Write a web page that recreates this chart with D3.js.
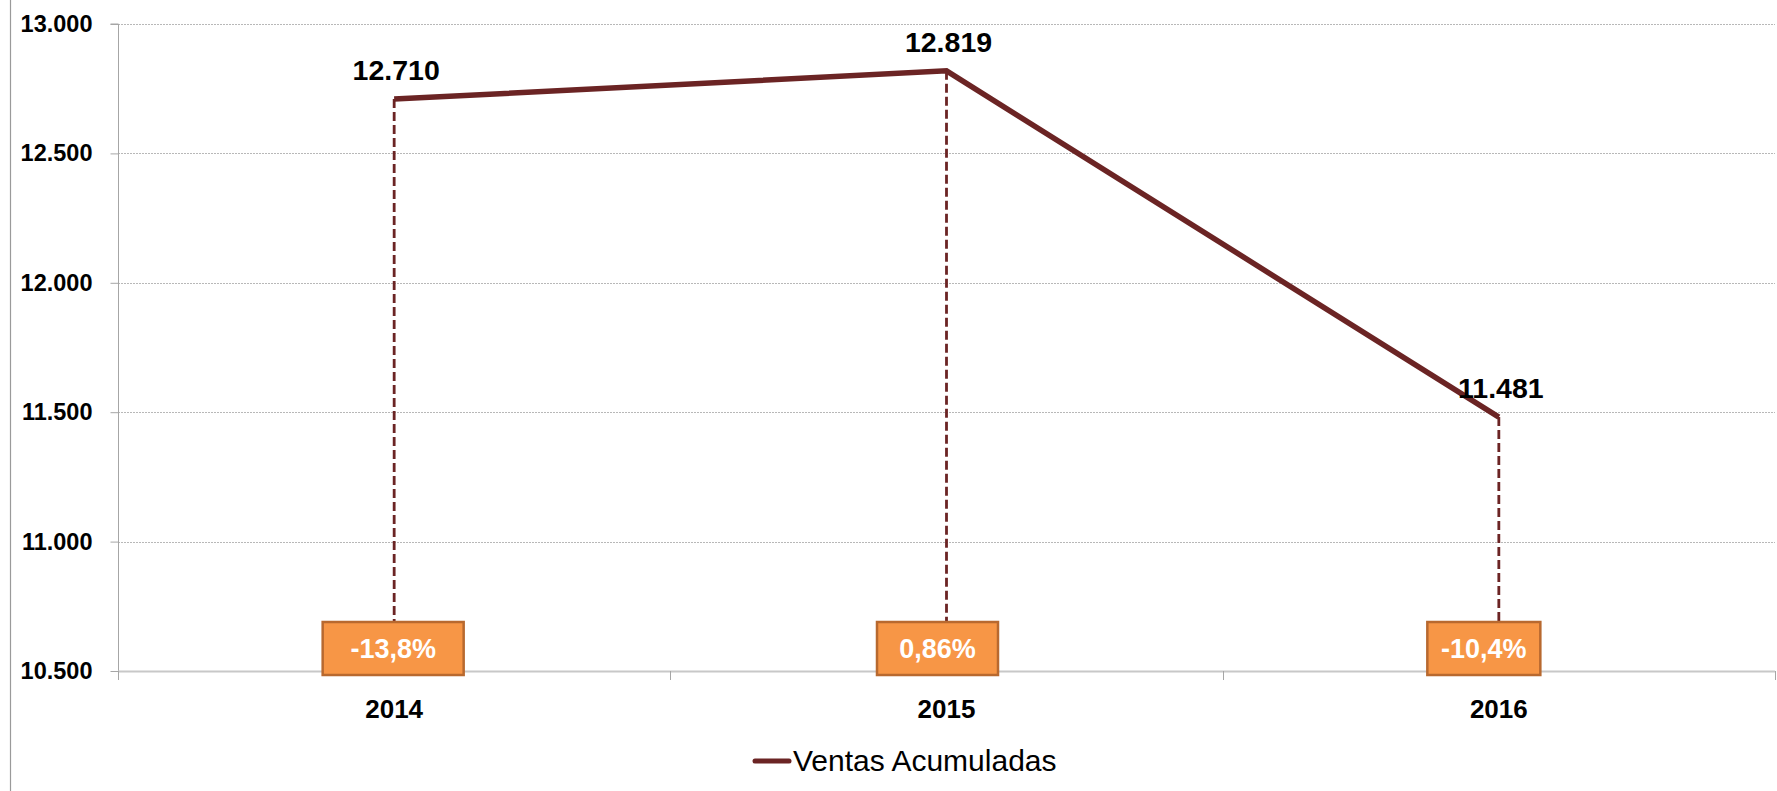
<!DOCTYPE html>
<html>
<head>
<meta charset="utf-8">
<script src="https://cdn.jsdelivr.net/npm/d3@7"></script>
<style>
  html, body { margin: 0; padding: 0; background: #fff; }
  svg { display: block; }
</style>
</head>
<body>
<svg id="chart" width="1777" height="791"></svg>
<script>
// ---- data ----
const categories = ["2014", "2015", "2016"];
const ventas = [12710, 12819, 11481];
const valueLabels = ["12.710", "12.819", "11.481"];
const changeLabels = ["-13,8%", "0,86%", "-10,4%"];
const yTicks = [10500, 11000, 11500, 12000, 12500, 13000];
const yTickLabels = ["10.500", "11.000", "11.500", "12.000", "12.500", "13.000"];
const seriesName = "Ventas Acumuladas";

// ---- layout / style ----
const W = 1777, H = 791;
const plot = { left: 118, right: 1775, top: 24, bottom: 671 };
const lineColor = "#6B2424";
const boxFill = "#F79646", boxStroke = "#B8692F";
const boxWidths = [141, 121, 113];
const boxDx = [-1, -9, -15];
const boxTop = 622, boxH = 53;
const font = "'Liberation Sans', Arial, sans-serif";

const svg = d3.select("#chart");

const x = d3.scaleBand().domain(categories).range([plot.left, plot.right]);
const y = d3.scaleLinear().domain([10500, 13000]).range([plot.bottom, plot.top]);
const cx = d => x(d) + x.bandwidth() / 2;

// outer left border
svg.append("line").attr("x1", 10.5).attr("x2", 10.5).attr("y1", 0).attr("y2", H)
  .attr("stroke", "#9a9a9a").attr("stroke-width", 1.2);

// gridlines
svg.append("g").selectAll("line").data(yTicks.filter(t => t !== 10500)).join("line")
  .attr("x1", plot.left).attr("x2", plot.right)
  .attr("y1", d => Math.round(y(d)) + 0.5).attr("y2", d => Math.round(y(d)) + 0.5)
  .attr("stroke", "#b8b8b8").attr("stroke-width", 1).attr("stroke-dasharray", "2,1");

// y axis
const yAxis = d3.axisLeft(y).tickValues(yTicks).tickSize(8).tickPadding(18)
  .tickFormat((d, i) => yTickLabels[i]);
const gy = svg.append("g").attr("transform", `translate(${plot.left + 0.5},0)`).call(yAxis);
gy.select(".domain").attr("stroke", "#a6a6a6").attr("d", `M-8,${y(13000)}H0V${plot.bottom}`);
gy.selectAll(".tick line").attr("stroke", "#a6a6a6");
gy.selectAll(".tick text")
  .attr("font-family", font).attr("font-weight", "bold").attr("font-size", 23.5).attr("fill", "#000");

// x axis
const xAxis = d3.axisBottom(x).tickSize(0).tickPadding(0).tickFormat(() => "");
const gx = svg.append("g").attr("transform", `translate(0,${plot.bottom + 0.5})`).call(xAxis);
gx.select(".domain").attr("stroke", "#c8c8c8").attr("stroke-width", 2)
  .attr("d", `M${plot.left},0H${plot.right}`);
// boundary ticks
const bounds = categories.map(c => x(c)).concat([plot.right]);
svg.append("g").selectAll("line").data(bounds).join("line")
  .attr("x1", d => Math.round(d) + 0.5).attr("x2", d => Math.round(d) + 0.5)
  .attr("y1", plot.bottom).attr("y2", plot.bottom + 9)
  .attr("stroke", "#a6a6a6").attr("stroke-width", 1);
// category labels
svg.append("g").selectAll("text").data(categories).join("text")
  .attr("x", d => cx(d)).attr("y", 718)
  .attr("text-anchor", "middle")
  .attr("font-family", font).attr("font-weight", "bold").attr("font-size", 26).attr("fill", "#000")
  .text(d => d);

// drop lines
svg.append("g").selectAll("line").data(ventas).join("line")
  .attr("x1", (d, i) => cx(categories[i])).attr("x2", (d, i) => cx(categories[i]))
  .attr("y1", d => y(d)).attr("y2", boxTop)
  .attr("stroke", lineColor).attr("stroke-width", 2.8).attr("stroke-dasharray", "9,4");

// main line
const line = d3.line().x((d, i) => cx(categories[i])).y(d => y(d));
svg.append("path").datum(ventas)
  .attr("d", line).attr("fill", "none")
  .attr("stroke", lineColor).attr("stroke-width", 5.5).attr("stroke-linejoin", "miter");

// value labels
svg.append("g").selectAll("text").data(ventas).join("text")
  .attr("x", (d, i) => cx(categories[i]) + 2).attr("y", d => y(d) - 19)
  .attr("text-anchor", "middle")
  .attr("font-family", font).attr("font-weight", "bold").attr("font-size", 28.5).attr("fill", "#000")
  .text((d, i) => valueLabels[i]);

// change boxes
const boxes = svg.append("g").selectAll("g").data(changeLabels).join("g")
  .attr("transform", (d, i) => `translate(${cx(categories[i]) + boxDx[i]},${boxTop})`);
boxes.append("rect")
  .attr("x", (d, i) => -boxWidths[i] / 2).attr("y", 0)
  .attr("width", (d, i) => boxWidths[i]).attr("height", boxH)
  .attr("fill", boxFill).attr("stroke", boxStroke).attr("stroke-width", 2.5);
boxes.append("text")
  .attr("x", 0).attr("y", boxH / 2 + 9.5)
  .attr("text-anchor", "middle")
  .attr("font-family", font).attr("font-weight", "bold").attr("font-size", 27).attr("fill", "#fff")
  .text(d => d);

// legend
const lg = svg.append("g");
lg.append("line").attr("x1", 755).attr("x2", 789).attr("y1", 761).attr("y2", 761)
  .attr("stroke", lineColor).attr("stroke-width", 5).attr("stroke-linecap", "round");
lg.append("text").attr("x", 793).attr("y", 771)
  .attr("font-family", font).attr("font-size", 30).attr("fill", "#000")
  .text(seriesName);
</script>
</body>
</html>
